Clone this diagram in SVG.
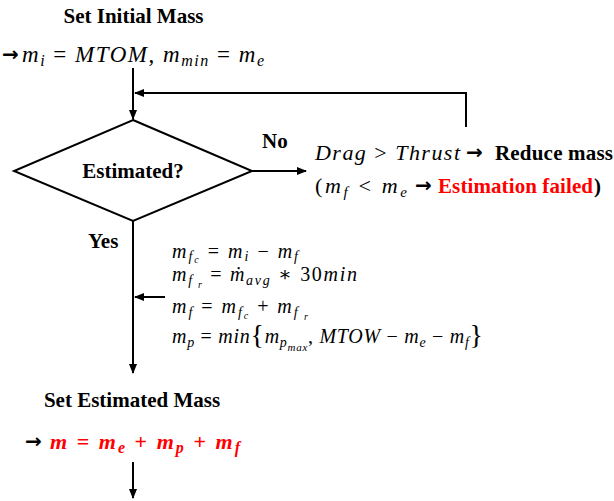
<svg xmlns="http://www.w3.org/2000/svg" width="614" height="501" viewBox="0 0 614 501">
<style>
.b{font-family:"Liberation Serif","Tinos","Noto Serif","DejaVu Serif",serif;font-weight:bold;font-size:21px;fill:#000}
.m{font-family:"Liberation Serif","Tinos","Noto Serif","DejaVu Serif",serif;font-style:italic;fill:#000}
.u{font-style:normal}
.ar{font-family:"DejaVu Sans",sans-serif;font-weight:bold;font-size:20px;fill:#000}
.red{fill:#ff0000}
.ln{stroke:#000;stroke-width:2;fill:none}
</style>
<defs>
<marker id="ah" markerUnits="userSpaceOnUse" markerWidth="10" markerHeight="8" refX="9" refY="4" orient="auto">
<path d="M0,0 L10,4 L0,8 z" fill="#000"/>
</marker>
</defs>
<g id="connectors">
<path class="ln" d="M133,68 V119" marker-end="url(#ah)"/>
<path class="ln" d="M466,127 V93 H135" marker-end="url(#ah)"/>
<path class="ln" d="M252,171 H306" marker-end="url(#ah)"/>
<path class="ln" d="M133,221 V373" marker-end="url(#ah)"/>
<path class="ln" d="M165,297 H135" marker-end="url(#ah)"/>
<path class="ln" d="M133,462 V498" marker-end="url(#ah)"/>
</g>
<g id="initial">
<text class="b" x="133.5" y="23" text-anchor="middle" font-size="21.5">Set Initial Mass</text>
<text class="ar" x="2" y="61" font-size="18">→</text>
<text class="m" x="22" y="62" font-size="23" textLength="242">m<tspan font-size="16" dy="4">i</tspan><tspan class="u" dy="-4"> = </tspan>MTOM<tspan class="u">, </tspan>m<tspan font-size="16" dy="4">min</tspan><tspan class="u" dy="-4"> = </tspan>m<tspan font-size="16" dy="4">e</tspan></text>
</g>
<g id="decision">
<polygon class="ln" points="133,120 252,171 133,221 14,171"/>
<text class="b" x="133" y="178" text-anchor="middle">Estimated?</text>
</g>
<g id="label-no">
<text class="b" x="262" y="148" font-size="20">No</text>
</g>
<g id="label-yes">
<text class="b" x="88" y="248">Yes</text>
</g>
<g id="reduce">
<text class="m" x="315" y="160" font-size="22" textLength="145">Drag<tspan class="u"> &gt; </tspan>Thrust</text>
<text class="ar" x="466" y="159">→</text>
<text class="b" x="495" y="160" textLength="118">Reduce mass</text>
<text class="m" x="315" y="193" font-size="22" textLength="92"><tspan class="u">(</tspan>m<tspan font-size="15" dy="4">f</tspan><tspan class="u" dy="-4"> &lt; </tspan>m<tspan font-size="15" dy="4">e</tspan></text>
<text class="ar" x="415" y="192">→</text>
<text class="b red" x="438" y="193" textLength="155">Estimation failed</text>
<text class="b" x="594" y="193">)</text>
</g>
<g id="equations">
<text class="m" x="172" y="258" font-size="20" textLength="126">m<tspan font-size="14" dy="3">f</tspan><tspan font-size="10" dy="2">c</tspan><tspan class="u" dy="-5"> = </tspan>m<tspan font-size="14" dy="3">i</tspan><tspan class="u" dy="-3"> − </tspan>m<tspan font-size="14" dy="3">f</tspan></text>
<text class="m" x="172" y="281" font-size="20" textLength="185">m<tspan font-size="14" dy="4">f</tspan><tspan font-size="10" dy="3"> r</tspan><tspan class="u" dy="-7"> = </tspan>ṁ<tspan font-size="14" dy="4">avg</tspan><tspan class="u" dy="-4"> ∗ 30</tspan>min</text>
<text class="m" x="172" y="313" font-size="20" textLength="136">m<tspan font-size="14" dy="4">f</tspan><tspan class="u" dy="-4"> = </tspan>m<tspan font-size="14" dy="4">f</tspan><tspan font-size="10" dy="2">c</tspan><tspan class="u" dy="-6"> + </tspan>m<tspan font-size="14" dy="4">f</tspan><tspan font-size="10" dy="3"> r</tspan></text>
<text class="m" x="172" y="343" font-size="20" textLength="311">m<tspan font-size="14" dy="4">p</tspan><tspan class="u" dy="-4"> = </tspan>min<tspan class="u" font-size="28" dy="1">{</tspan><tspan dy="-1">m</tspan><tspan font-size="14" dy="4">p</tspan><tspan font-size="11" dy="4">max</tspan><tspan class="u" dy="-8">, </tspan>MTOW<tspan class="u"> − </tspan>m<tspan font-size="14" dy="4">e</tspan><tspan class="u" dy="-4"> − </tspan>m<tspan font-size="14" dy="4">f</tspan><tspan class="u" font-size="28" dy="-3">}</tspan></text>
</g>
<g id="estimated">
<text class="b" x="132" y="407" text-anchor="middle" font-size="21.5">Set Estimated Mass</text>
<text class="ar" x="25" y="448">→</text>
<text class="m red" x="50" y="449" font-size="22" font-weight="bold" textLength="190">m<tspan class="u"> = </tspan>m<tspan font-size="16" dy="4">e</tspan><tspan class="u" dy="-4"> + </tspan>m<tspan font-size="16" dy="4">p</tspan><tspan class="u" dy="-4"> + </tspan>m<tspan font-size="16" dy="4">f</tspan></text>
</g>
</svg>
